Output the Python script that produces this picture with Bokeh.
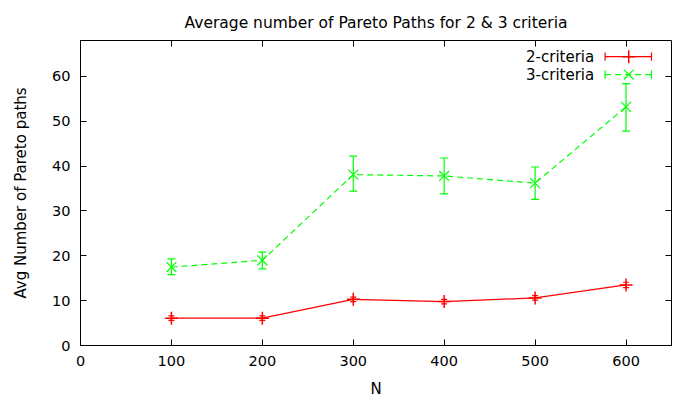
from bokeh.plotting import figure
from bokeh.models import (ColumnDataSource, Whisker, TeeHead, LinearAxis, Range1d,
                          FixedTicker, Label)
from bokeh.embed import file_html
from bokeh.resources import INLINE

# Problem sizes and averaged Pareto path counts
n_values = [100, 200, 300, 400, 500, 600]

crit2_mean = [6.1, 6.1, 10.3, 9.8, 10.6, 13.5]
crit2_lower = [5.6, 5.6, 9.8, 9.3, 10.1, 12.9]
crit2_upper = [6.6, 6.6, 10.8, 10.3, 11.1, 14.1]

crit3_mean = [17.5, 19.0, 38.1, 37.8, 36.2, 53.2]
crit3_lower = [15.8, 17.1, 34.4, 33.8, 32.6, 47.8]
crit3_upper = [19.3, 20.8, 42.2, 41.8, 39.8, 58.4]

x_ticks = [0, 100, 200, 300, 400, 500, 600]
y_ticks = [0, 10, 20, 30, 40, 50, 60]

FONT = "DejaVu Sans"
RED = "#ff0000"
GREEN = "#00ff00"

p = figure(width=679, height=402, output_backend="svg", toolbar_location=None,
           x_range=Range1d(0, 650), y_range=Range1d(0, 68),
           min_border_left=80, min_border_right=8, min_border_top=40,
           min_border_bottom=57, background_fill_color="white",
           border_fill_color="white")

p.title.text = "Average number of Pareto Paths for 2 & 3 criteria"
p.title.align = "center"
p.title.text_font = FONT
p.title.text_font_size = "15.5px"
p.title.text_font_style = "normal"
p.title.text_color = "black"
p.title.standoff = 18

p.grid.visible = False
p.outline_line_color = "black"
p.outline_line_width = 1
p.outline_line_alpha = 1


def style_axis(ax, labels=True):
    ax.major_tick_in = 6
    ax.major_tick_out = 0
    ax.minor_tick_line_color = None
    ax.axis_line_color = None
    ax.major_tick_line_color = "black"
    ax.major_label_text_font = FONT
    ax.major_label_text_font_size = "14.5px"
    ax.major_label_text_color = "black" if labels else None
    ax.axis_label_text_font = FONT
    ax.axis_label_text_font_size = "15px"
    ax.axis_label_text_font_style = "normal"
    ax.axis_label_text_color = "black"


p.xaxis.ticker = FixedTicker(ticks=x_ticks)
p.yaxis.ticker = FixedTicker(ticks=y_ticks)
p.xaxis.axis_label = "N"
p.yaxis.axis_label = "Avg Number of Pareto paths"
style_axis(p.xaxis[0])
style_axis(p.yaxis[0])
p.xaxis.major_label_standoff = 10
p.yaxis.major_label_standoff = 10
p.xaxis.axis_label_standoff = 11
p.yaxis.axis_label_standoff = 19

# Mirrored tick marks on the top and right edges
top_axis = LinearAxis(ticker=FixedTicker(ticks=x_ticks))
style_axis(top_axis, labels=False)
top_axis.major_label_text_font_size = "0px"
top_axis.major_label_standoff = 0
p.add_layout(top_axis, "above")
right_axis = LinearAxis(ticker=FixedTicker(ticks=y_ticks))
style_axis(right_axis, labels=False)
right_axis.major_label_text_font_size = "0px"
right_axis.major_label_standoff = 0
p.add_layout(right_axis, "right")

src2 = ColumnDataSource(dict(x=n_values, y=crit2_mean, lo=crit2_lower, hi=crit2_upper))
src3 = ColumnDataSource(dict(x=n_values, y=crit3_mean, lo=crit3_lower, hi=crit3_upper))

# 2-criteria series
p.line("x", "y", source=src2, line_color=RED, line_width=1.2)
p.add_layout(Whisker(source=src2, base="x", lower="lo", upper="hi",
                     line_color=RED, line_width=1.2,
                     upper_head=TeeHead(size=6, line_color=RED, line_width=1.2),
                     lower_head=TeeHead(size=6, line_color=RED, line_width=1.2)))
p.scatter("x", "y", source=src2, marker="cross", size=13, line_color=RED,
          line_width=1.5)

# 3-criteria series
p.line("x", "y", source=src3, line_color=GREEN, line_width=1.2, line_dash="6 4")
p.add_layout(Whisker(source=src3, base="x", lower="lo", upper="hi",
                     line_color=GREEN, line_width=1.2,
                     upper_head=TeeHead(size=8, line_color=GREEN, line_width=1.2),
                     lower_head=TeeHead(size=8, line_color=GREEN, line_width=1.2)))
p.scatter("x", "y", source=src3, marker="x", size=14, line_color=GREEN,
          line_width=1.2)

# Key in the top-right corner
key_names = ["2-criteria", "3-criteria"]
key_colors = [RED, GREEN]
key_dash = ["solid", "6 4"]
key_markers = ["cross", "x"]
key_y = [64.4, 60.4]
key_x0, key_x1, key_xm, key_text_x = 577, 628, 603, 565
cap = 0.9
for name, col, dash, mk, ky in zip(key_names, key_colors, key_dash, key_markers, key_y):
    p.add_layout(Label(x=key_text_x, y=ky, text=name, text_font=FONT,
                       text_font_size="15px", text_align="right",
                       text_baseline="middle", text_color="black"))
    p.segment(x0=[key_x0], y0=[ky], x1=[key_x1], y1=[ky], line_color=col,
              line_width=1.2, line_dash=dash)
    p.segment(x0=[key_x0, key_x1], y0=[ky - cap, ky - cap],
              x1=[key_x0, key_x1], y1=[ky + cap, ky + cap],
              line_color=col, line_width=1.2)
    p.scatter(x=[key_xm], y=[ky], marker=mk, size=13 if mk == "cross" else 14,
              line_color=col, line_width=1.5 if mk == "cross" else 1.2)

open("out.html", "w").write(file_html(p, INLINE))
